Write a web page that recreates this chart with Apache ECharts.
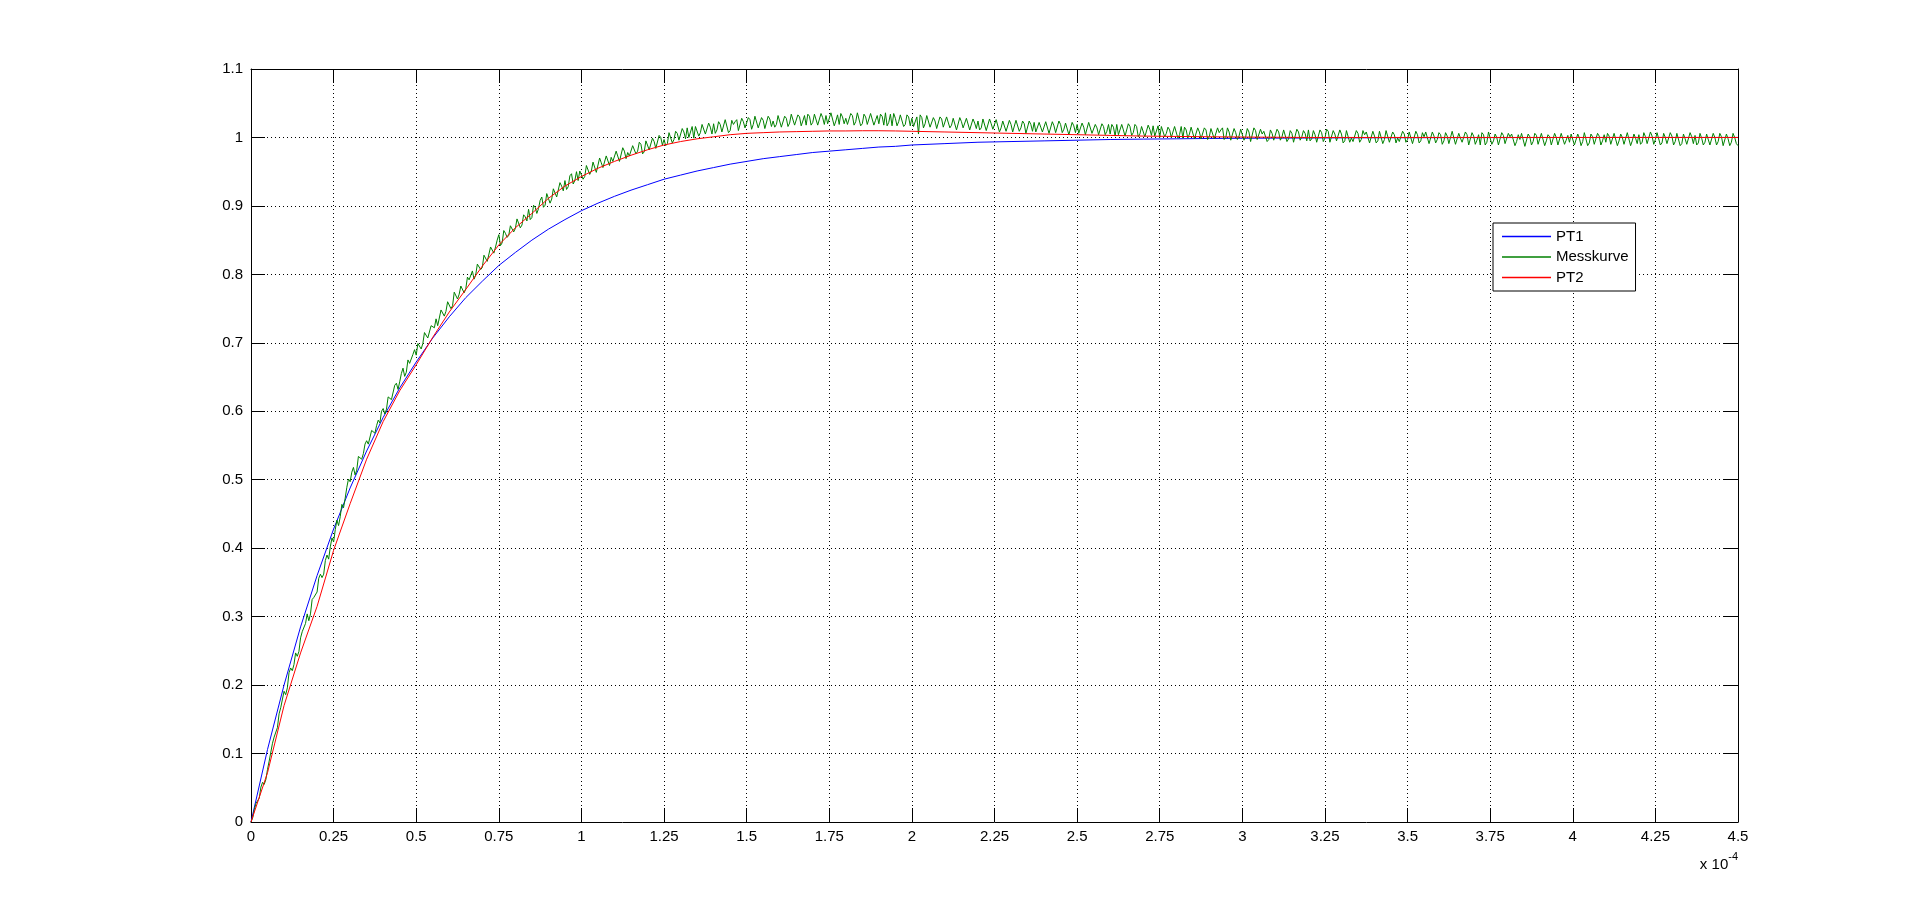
<!DOCTYPE html>
<html>
<head>
<meta charset="utf-8">
<script src="https://cdn.jsdelivr.net/npm/echarts@6/dist/echarts.min.js"></script>
<style>
html,body{margin:0;padding:0;background:#fff;}
#chart{width:1920px;height:924px;}
</style>
</head>
<body>
<div id="chart"></div>
<script>
// x positions (units of 1e-4 s) for the smooth model curves
const tModel = [0,0.05,0.1,0.15,0.2,0.25,0.3,0.35,0.4,0.45,0.5,0.55,0.6,0.65,0.7,0.75,0.8,0.85,0.9,0.95,
  1,1.05,1.1,1.15,1.2,1.25,1.3,1.35,1.4,1.45,1.5,1.55,1.6,1.65,1.7,1.75,1.8,1.85,1.9,1.95,
  2,2.1,2.2,2.3,2.4,2.5,2.6,2.7,2.8,2.9,3,3.1,3.2,3.3,3.4,3.5,3.6,3.7,3.8,3.9,4,4.1,4.2,4.3,4.4,4.5];

const pt1 = [0,0.106,0.200,0.285,0.360,0.428,0.488,0.542,0.591,0.634,0.672,0.707,0.738,0.766,0.790,0.813,0.832,0.850,0.866,0.880,
  0.893,0.904,0.914,0.923,0.931,0.939,0.945,0.951,0.956,0.961,0.965,0.969,0.972,0.975,0.978,0.980,0.982,0.984,0.986,0.987,
  0.989,0.991,0.993,0.994,0.995,0.996,0.997,0.9976,0.998,0.9985,0.9988,0.999,0.9992,0.9994,0.9995,0.9996,0.9997,0.9998,0.9998,0.9999,0.9999,1,1,1,1,1];

const pt2 = [0,0.072,0.170,0.247,0.315,0.397,0.465,0.530,0.585,0.630,0.668,0.708,0.745,0.778,0.812,0.843,0.868,0.889,0.911,0.929,
  0.943,0.955,0.965,0.974,0.982,0.989,0.994,0.998,1.001,1.004,1.006,1.007,1.008,1.0085,1.009,1.0095,1.0095,1.0098,1.0098,1.0095,
  1.009,1.008,1.007,1.006,1.005,1.004,1.003,1.002,1.0015,1.001,1.0006,1.0003,1,1,1,1,1,1,1,1,1,1,1,1,1,1];

// measured curve, sampled every 0.005 (x 1e-4 s) starting at 0
const messStart = 0;
const messStep = 0.005;
const messkurve = [
0,0.006,0.018,0.027,0.026,0.035,0.051,0.058,0.055,0.062,0.077,0.089,0.091,0.115,0.124,0.126,0.138,0.158,0.167,0.169,
0.191,0.186,0.196,0.218,0.225,0.221,0.230,0.247,0.242,0.249,0.269,0.278,0.278,0.290,0.304,0.294,0.304,0.325,0.328,0.330,
0.336,0.356,0.362,0.357,0.362,0.382,0.390,0.384,0.402,0.415,0.409,0.427,0.441,0.433,0.446,0.464,0.459,0.473,0.489,0.501,
0.497,0.511,0.518,0.507,0.514,0.534,0.534,0.530,0.538,0.552,0.557,0.552,0.551,0.572,0.574,0.568,0.579,0.587,0.583,0.600,
0.604,0.596,0.603,0.621,0.619,0.617,0.618,0.638,0.641,0.632,0.643,0.655,0.663,0.651,0.657,0.675,0.670,0.672,0.683,0.690,
0.682,0.699,0.700,0.691,0.699,0.715,0.716,0.707,0.708,0.725,0.724,0.722,0.735,0.725,0.726,0.748,0.746,0.739,0.746,0.760,
0.758,0.750,0.754,0.774,0.776,0.764,0.771,0.783,0.784,0.773,0.779,0.796,0.792,0.790,0.805,0.793,0.799,0.815,0.815,0.807,
0.810,0.828,0.826,0.819,0.820,0.840,0.842,0.831,0.840,0.850,0.858,0.842,0.846,0.864,0.860,0.854,0.857,0.871,0.872,0.862,
0.867,0.881,0.882,0.868,0.872,0.887,0.884,0.878,0.895,0.880,0.883,0.901,0.898,0.889,0.896,0.908,0.913,0.898,0.901,0.918,
0.916,0.904,0.910,0.925,0.927,0.913,0.914,0.934,0.929,0.922,0.937,0.924,0.928,0.944,0.947,0.932,0.937,0.950,0.937,0.951,
0.952,0.939,0.943,0.959,0.960,0.946,0.951,0.964,0.966,0.949,0.951,0.970,0.963,0.956,0.954,0.973,0.971,0.959,0.971,0.965,
0.966,0.980,0.979,0.965,0.966,0.985,0.980,0.969,0.978,0.973,0.973,0.988,0.990,0.976,0.980,0.993,0.990,0.976,0.979,0.995,
0.996,0.982,0.984,0.999,0.994,0.984,0.983,1.003,1.000,0.989,0.997,0.988,0.991,1.007,1.008,0.992,0.997,1.009,1.006,0.996,
0.997,1.013,1.008,0.998,1.014,1.000,1.002,1.016,0.999,1.016,1.014,1.002,1.007,1.019,1.017,1.005,1.006,1.021,1.015,1.005,
1.020,1.006,1.011,1.023,1.019,1.008,1.007,1.026,1.025,1.007,1.010,1.025,1.019,1.023,1.026,1.010,1.011,1.028,1.023,1.014,
1.015,1.029,1.026,1.012,1.019,1.031,1.030,1.014,1.014,1.029,1.025,1.013,1.013,1.031,1.027,1.016,1.024,1.015,1.019,1.032,
1.031,1.015,1.017,1.031,1.028,1.016,1.021,1.034,1.034,1.018,1.016,1.033,1.030,1.017,1.024,1.032,1.018,1.034,1.031,1.018,
1.022,1.034,1.033,1.018,1.017,1.035,1.029,1.019,1.032,1.020,1.021,1.036,1.037,1.017,1.024,1.033,1.019,1.035,1.030,1.020,
1.028,1.019,1.018,1.035,1.032,1.018,1.023,1.036,1.035,1.017,1.020,1.034,1.030,1.019,1.017,1.035,1.033,1.018,1.025,1.032,
1.020,1.034,1.031,1.018,1.036,1.017,1.022,1.034,1.017,1.035,1.028,1.017,1.023,1.033,1.032,1.016,1.019,1.033,1.030,1.017,
1.028,1.016,1.017,1.030,1.005,1.033,1.029,1.014,1.020,1.032,1.032,1.015,1.016,1.029,1.024,1.013,1.014,1.030,1.027,1.015,
1.016,1.030,1.029,1.014,1.018,1.028,1.030,1.011,1.013,1.029,1.023,1.014,1.015,1.028,1.026,1.011,1.010,1.027,1.021,1.013,
1.024,1.011,1.014,1.027,1.027,1.010,1.010,1.027,1.020,1.012,1.012,1.026,1.024,1.008,1.014,1.024,1.022,1.009,1.010,1.025,
1.019,1.008,1.009,1.025,1.024,1.009,1.014,1.024,1.020,1.006,1.006,1.024,1.019,1.009,1.022,1.008,1.009,1.022,1.015,1.008,
1.010,1.023,1.023,1.006,1.008,1.023,1.017,1.007,1.006,1.024,1.019,1.007,1.012,1.021,1.021,1.004,1.006,1.022,1.017,1.007,
1.019,1.006,1.008,1.021,1.015,1.004,1.004,1.022,1.022,1.006,1.008,1.019,1.014,1.004,1.005,1.020,1.016,1.004,1.009,1.019,
1.005,1.019,1.015,1.002,1.019,1.004,1.006,1.019,1.011,1.002,1.001,1.020,1.016,1.003,1.007,1.019,1.016,1.001,1.005,1.016,
1.014,1.001,1.002,1.018,1.012,1.003,1.017,1.002,1.004,1.017,1.000,1.016,1.014,1.001,1.006,1.015,1.011,1.000,1.001,1.016,
1.015,0.999,1.004,1.016,0.999,1.015,1.011,0.999,1.005,1.015,1.013,0.998,0.997,1.014,1.008,0.998,1.000,1.014,1.011,0.997,
1.001,1.013,1.011,0.998,0.997,1.014,1.007,1.011,1.014,0.997,1.000,1.014,1.008,0.996,0.997,1.013,1.007,0.997,1.002,1.012,
1.011,0.996,1.001,1.013,1.008,0.994,0.995,1.014,1.010,0.997,0.999,1.012,1.005,1.009,1.011,0.994,0.997,1.011,1.006,0.996,
0.996,1.012,1.008,0.996,1.001,1.011,1.011,0.994,0.998,1.010,1.006,0.993,0.994,1.012,1.008,0.996,1.001,1.010,1.006,0.995,
1.011,0.995,0.998,1.010,1.004,0.993,0.995,1.011,1.007,0.994,0.999,1.012,1.009,0.993,0.994,1.010,1.005,0.995,0.997,1.011,
1.005,0.992,0.995,1.010,1.009,0.993,0.999,0.994,0.994,1.010,1.006,0.993,0.997,1.010,1.004,1.008,1.007,0.992,0.993,1.009,
1.002,0.992,0.995,1.009,1.007,0.991,0.997,1.010,1.009,0.993,0.993,1.008,1.004,0.992,0.999,0.994,0.994,1.009,1.005,0.993,
0.997,1.008,1.006,0.991,0.992,1.009,1.004,0.992,0.995,1.007,1.001,1.008,1.007,0.991,0.990,1.008,1.002,0.992,0.997,1.007,
1.004,0.990,0.995,1.007,1.002,0.991,0.992,1.009,1.008,0.990,0.992,1.006,0.999,0.993,0.995,1.008,1.004,0.989,0.990,1.007,
1.002,0.990,0.996,1.004,0.989,1.007,1.004,0.989,0.993,1.008,1.006,0.990,0.995,1.005,1.000,0.989,0.991,1.007,1.003,0.991,
0.992,1.006,1.001,1.005,1.005,0.988,0.994,1.004,0.997,1.006,1.006,0.987,0.989,1.005,1.001,0.989,0.994,1.006,1.003,0.990,
0.992,1.006,1.005,0.988,0.995,1.004,1.001,0.989,0.988,1.006,1.000,0.989,0.991,1.006,1.004,0.990,0.996,1.003,0.993,1.005,
1.003,0.989,0.990,1.005,0.999,0.988,0.994,1.007,1.006,0.988,0.992,1.005,1.001,0.990,0.989,1.006,1.002,0.989,0.995,1.004,
0.993,1.006,1.002,0.990,0.989,1.006,1.004,0.988,0.995,1.005,1.000,0.990,0.992,1.007,1.007,0.988,0.995,1.005,0.999,0.991,
1.004,0.990,0.993,1.007,1.001,0.991,0.989,1.008,1.002,0.990,0.997,1.007,1.006,0.989,0.992,1.006,1.000,0.991,0.991,1.007,
1.002,0.989,0.994,1.006,1.004,0.988,0.991,1.005,0.998,0.990,0.989,1.007,1.001,0.991,1.003,0.989,0.992,1.006,0.999,0.989,
0.993,1.005,1.003,0.989,0.990,1.006,1.000,0.989,0.994,1.006,1.001,0.988,0.990,1.005,0.998,0.988,0.993,1.006,1.000,0.991,
0.988];

const seriesNames = ['PT1','Messkurve','PT2'];
const seriesColors = ['#0000ff','#008000','#ff0000'];
const xMin = 0, xMax = 4.5, xStep = 0.25;
const yMin = 0, yMax = 1.1, yStep = 0.1;
const xExponentBase = 'x 10';
const xExponent = '-4';

const FONT = '"Liberation Sans", Arial, Helvetica, sans-serif';

const pairs = (xs, ys) => ys.map((y, i) => [xs[i], y]);
const messData = messkurve.map((y, i) => [messStart + i * messStep, y]);

const chart = echarts.init(document.getElementById('chart'), null, {renderer: 'canvas'});

const gridLine = {show: true, lineStyle: {color: '#000', width: 1, type: [1, 3]}};
const tickCommon = {show: true, inside: true, length: 14, lineStyle: {color: '#000', width: 1}};

const option = {
  backgroundColor: '#ffffff',
  animation: false,
  grid: {left: 251, right: 182, top: 69, bottom: 102, containLabel: false},
  xAxis: [
    {
      type: 'value', min: xMin, max: xMax, interval: xStep, position: 'bottom',
      axisLine: {show: true, onZero: false, lineStyle: {color: '#000', width: 1}},
      axisTick: tickCommon,
      axisLabel: {color: '#000', fontFamily: FONT, fontSize: 15, margin: 7,
        formatter: v => String(+v.toFixed(2))},
      splitLine: gridLine
    },
    {
      type: 'value', min: xMin, max: xMax, interval: xStep, position: 'top',
      axisLine: {show: true, onZero: false, lineStyle: {color: '#000', width: 1}},
      axisTick: tickCommon, axisLabel: {show: false}, splitLine: {show: false}
    }
  ],
  yAxis: [
    {
      type: 'value', min: yMin, max: yMax, interval: yStep, position: 'left',
      axisLine: {show: true, onZero: false, lineStyle: {color: '#000', width: 1}},
      axisTick: tickCommon,
      axisLabel: {color: '#000', fontFamily: FONT, fontSize: 15, margin: 8,
        formatter: v => String(+v.toFixed(2))},
      splitLine: gridLine
    },
    {
      type: 'value', min: yMin, max: yMax, interval: yStep, position: 'right',
      axisLine: {show: true, onZero: false, lineStyle: {color: '#000', width: 1}},
      axisTick: tickCommon, axisLabel: {show: false}, splitLine: {show: false}
    }
  ],
  legend: {
    orient: 'vertical', left: 1493, top: 223,
    padding: [6, 7, 6, 9], itemGap: 5.5,
    itemWidth: 49, itemHeight: 1.5, icon: 'rect',
    backgroundColor: '#fff', borderColor: '#000', borderWidth: 1, borderRadius: 0,
    textStyle: {color: '#000', fontFamily: FONT, fontSize: 15, padding: [0,0,0,0]},
    data: seriesNames
  },
  series: [
    {name: seriesNames[0], type: 'line', data: pairs(tModel, pt1), showSymbol: false, symbol: 'none',
      lineStyle: {color: seriesColors[0], width: 1}, itemStyle: {color: seriesColors[0]}, z: 2},
    {name: seriesNames[1], type: 'line', data: messData, showSymbol: false, symbol: 'none',
      lineStyle: {color: seriesColors[1], width: 1}, itemStyle: {color: seriesColors[1]}, z: 3},
    {name: seriesNames[2], type: 'line', data: pairs(tModel, pt2), showSymbol: false, symbol: 'none',
      lineStyle: {color: seriesColors[2], width: 1}, itemStyle: {color: seriesColors[2]}, z: 4}
  ],
  graphic: [
    {
      type: 'text', right: 182, top: 851,
      style: {
        text: '{b|' + xExponentBase + '}{s|' + xExponent + '}',
        rich: {
          b: {fontFamily: FONT, fontSize: 15, fill: '#000', padding: [10, 0, 0, 0]},
          s: {fontFamily: FONT, fontSize: 11, fill: '#000', padding: [0, 0, 6, 0]}
        }
      }
    }
  ]
};
chart.setOption(option);
</script>
</body>
</html>
